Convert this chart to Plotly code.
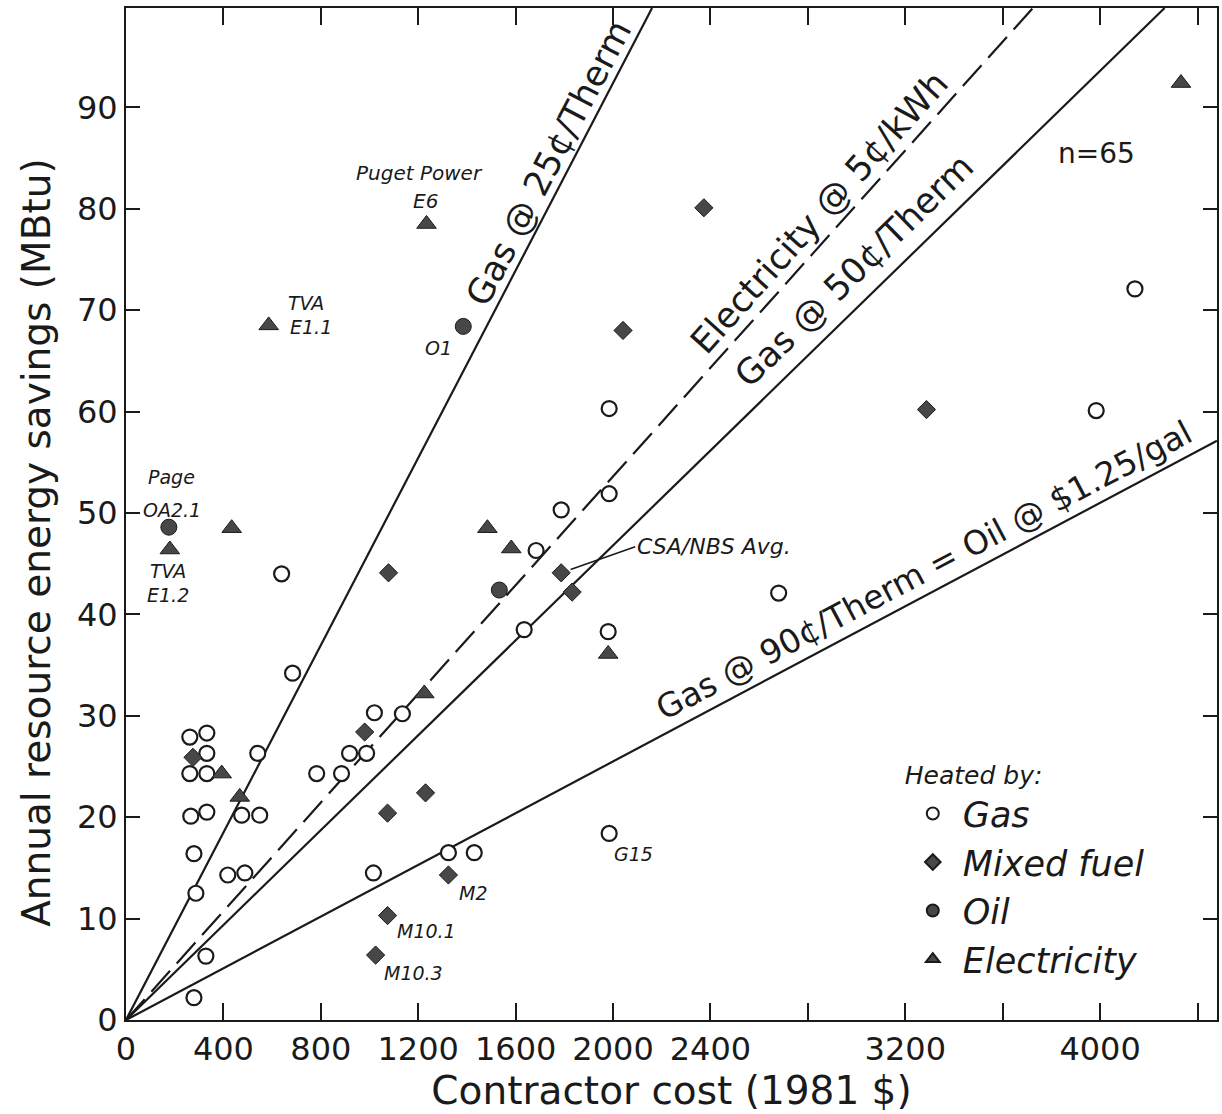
import plotly.graph_objects as go

# ---------------- data ----------------
gas_x = [262, 332, 332, 262, 332, 541, 266, 332, 475, 549, 279, 418, 488, 287, 328, 279,
         783, 885, 918, 988, 1020, 1135, 1016, 1324, 1430, 684, 639, 1984, 1787, 1984,
         1684, 1635, 1980, 2680, 1984, 3984, 4143]
gas_y = [27.9, 28.3, 26.3, 24.3, 24.3, 26.3, 20.1, 20.5, 20.2, 20.2, 16.4, 14.3, 14.5, 12.5, 6.3, 2.2,
         24.3, 24.3, 26.3, 26.3, 30.3, 30.2, 14.5, 16.5, 16.5, 34.2, 44.0, 60.3, 50.3, 51.9,
         46.3, 38.5, 38.3, 42.1, 18.4, 60.1, 72.1]

mixed_x = [275, 980, 1074, 1230, 1324, 1074, 1025, 1078, 1787, 1832, 2373, 2041, 3287]
mixed_y = [25.9, 28.4, 20.4, 22.4, 14.3, 10.3, 6.4, 44.1, 44.1, 42.2, 80.1, 68.0, 60.2]

oil_x = [176, 1385, 1533]
oil_y = [48.6, 68.4, 42.4]

elec_x = [180, 434, 586, 1234, 393, 467, 1225, 1484, 1582, 1980, 4332]
elec_y = [46.4, 48.5, 68.5, 78.5, 24.3, 22.0, 32.2, 48.5, 46.5, 36.1, 92.4]

# cost-effectiveness reference lines (MBtu saved per 1981 $)
line_labels = ["Gas @ 25¢/Therm", "Electricity @ 5¢/kWh", "Gas @ 50¢/Therm",
               "Gas @ 90¢/Therm = Oil @ $1.25/gal"]
line_slopes = [0.0462, 0.0268, 0.0234, 0.01275]

x_tickvals = [0, 400, 800, 1200, 1600, 2000, 2400, 2800, 3200, 3600, 4000, 4400]
x_ticktext = ["0", "400", "800", "1200", "1600", "2000", "2400", "", "3200", "", "4000", ""]
y_tickvals = [0, 10, 20, 30, 40, 50, 60, 70, 80, 90]

XMAX, YMAX = 4480, 99.8

FONT = "DejaVu Sans, Liberation Sans, sans-serif"
INK = "#1a1a1a"
FILL = "#474747"

fig = go.Figure()

# reference lines
line_dash = ["solid", "28px,10px", "solid", "solid"]
for lab, s, d in zip(line_labels, line_slopes, line_dash):
    xe = min(XMAX, YMAX / s)
    fig.add_trace(go.Scatter(x=[0, xe], y=[0, s * xe], mode="lines",
                             line=dict(color=INK, width=2.2, dash=d),
                             showlegend=False, hoverinfo="skip"))

# markers
fig.add_trace(go.Scatter(x=gas_x, y=gas_y, mode="markers", name="Gas", legendgroup="g",
                         marker=dict(symbol="circle", size=15, color="white",
                                     line=dict(color=INK, width=2.2))))
fig.add_trace(go.Scatter(x=mixed_x, y=mixed_y, mode="markers", name="Mixed fuel", legendgroup="m",
                         marker=dict(symbol="diamond", size=14, color=FILL,
                                     line=dict(color=INK, width=1))))
fig.add_trace(go.Scatter(x=oil_x, y=oil_y, mode="markers", name="Oil", legendgroup="o",
                         marker=dict(symbol="circle", size=16, color=FILL,
                                     line=dict(color=INK, width=1))))
fig.add_trace(go.Scatter(x=elec_x, y=elec_y, mode="markers", name="Electricity", legendgroup="e",
                         marker=dict(symbol="triangle-up", size=17, color=FILL,
                                     line=dict(color=INK, width=1))))

# line labels, placed along each line and shifted perpendicular (pixels)
label_pos = [  # (x on line, xshift, yshift, angle, font size)
    (1810, -18, 9, -62.5, 35),
    (2918, -17, 15, -48.1, 35),
    (3070, -20, 21, -44.2, 35),
    (3320, -11, 20, -27.9, 33),
]
for lab, s, (xl, dx, dy, ang, fs) in zip(line_labels, line_slopes, label_pos):
    fig.add_annotation(x=xl, y=s * xl, text=lab, showarrow=False, textangle=ang,
                       xshift=dx, yshift=dy,
                       font=dict(family=FONT, size=fs, color=INK))

# point annotations (italic)
def note(text, px, py, dx, dy, size=19, anchor="center"):
    fig.add_annotation(x=px, y=py, text=text, showarrow=False, xshift=dx, yshift=dy,
                       xanchor=anchor,
                       font=dict(family=FONT, size=size, color=INK, style="italic"))

note("Puget Power", elec_x[3], elec_y[3], -7, 51, size=20)
note("E6", elec_x[3], elec_y[3], -1, 23, size=20)
note("TVA", elec_x[2], elec_y[2], 17, 22, anchor="left")
note("E1.1", elec_x[2], elec_y[2], 19, -2, anchor="left")
note("O1", oil_x[1], oil_y[1], -25, -22)
note("Page", oil_x[0], oil_y[0], 3, 50)
note("OA2.1", oil_x[0], oil_y[0], 3, 17)
note("TVA", elec_x[0], elec_y[0], -2, -22)
note("E1.2", elec_x[0], elec_y[0], -2, -46)
note("M2", mixed_x[4], mixed_y[4], 25, -18)
note("M10.1", mixed_x[5], mixed_y[5], 39, -15)
note("M10.3", mixed_x[6], mixed_y[6], 38, -18)
note("G15", gas_x[34], gas_y[34], 24, -21)

# CSA/NBS average callout
fig.add_annotation(x=mixed_x[8], y=mixed_y[8], ax=74, ay=-26, axref="pixel", ayref="pixel",
                   text="CSA/NBS Avg.", showarrow=True, arrowhead=0, arrowwidth=1.5,
                   arrowcolor=INK, standoff=10, xanchor="left",
                   font=dict(family=FONT, size=22, color=INK, style="italic"))

fig.add_annotation(x=3984, y=85.5, text="n=65", showarrow=False,
                   font=dict(family=FONT, size=28, color=INK))

# y-axis title (placed as text to match the original's vertical position)
fig.add_annotation(xref="paper", yref="paper", x=-0.082, y=0.472, xanchor="center",
                   yanchor="middle", textangle=-90, showarrow=False,
                   text="Annual resource energy savings (MBtu)",
                   font=dict(family=FONT, size=39, color=INK))

axis_common = dict(showline=True, linewidth=2, linecolor=INK, mirror="ticks",
                   ticks="inside", tickwidth=2, tickcolor=INK,
                   showgrid=False, zeroline=False)

fig.update_layout(
    width=1222, height=1114,
    margin=dict(l=126, r=3, t=8, b=94),
    paper_bgcolor="white", plot_bgcolor="white",
    font=dict(family=FONT, color=INK),
    xaxis=dict(range=[0, XMAX], tickvals=x_tickvals, ticktext=x_ticktext, ticklen=17,
               tickfont=dict(size=32),
               title=dict(text="Contractor cost (1981 $)", font=dict(size=39), standoff=6),
               **axis_common),
    yaxis=dict(range=[0, YMAX], tickvals=y_tickvals, ticklen=14,
               tickfont=dict(size=32),
               **axis_common),
    legend=dict(x=0.712, y=0.265, xanchor="left", yanchor="top",
                bgcolor="rgba(0,0,0,0)", itemsizing="constant", itemwidth=50,
                tracegroupgap=0,
                title=dict(text="Heated by:", font=dict(size=25, style="italic")),
                font=dict(size=35, style="italic", family=FONT)),
)

fig.write_html("out.html")
